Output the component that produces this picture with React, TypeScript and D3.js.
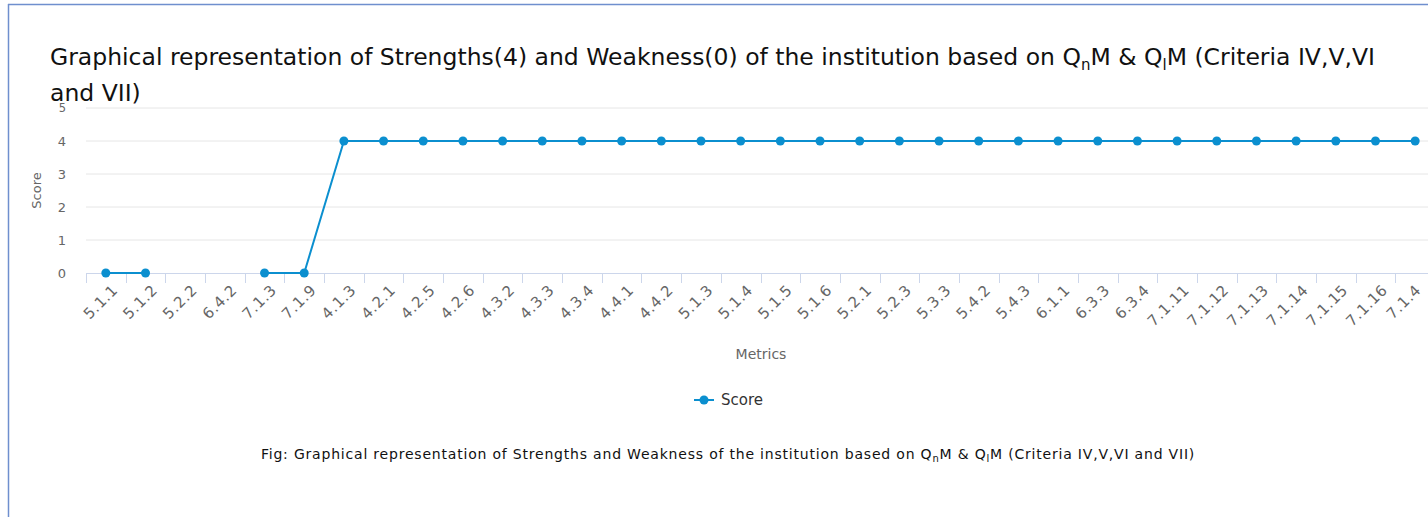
import React from 'react';
import * as d3 from 'd3';

// metrics on the x axis, in the order shown
const metrics = [
  '5.1.1', '5.1.2', '5.2.2', '6.4.2', '7.1.3', '7.1.9', '4.1.3', '4.2.1', '4.2.5', '4.2.6',
  '4.3.2', '4.3.3', '4.3.4', '4.4.1', '4.4.2', '5.1.3', '5.1.4', '5.1.5', '5.1.6', '5.2.1',
  '5.2.3', '5.3.3', '5.4.2', '5.4.3', '6.1.1', '6.3.3', '6.3.4', '7.1.11', '7.1.12', '7.1.13',
  '7.1.14', '7.1.15', '7.1.16', '7.1.4'
];
// null = no value (gap in the line)
const scores: (number | null)[] = [
  0, 0, null, null, 0, 0, 4, 4, 4, 4,
  4, 4, 4, 4, 4, 4, 4, 4, 4, 4,
  4, 4, 4, 4, 4, 4, 4, 4, 4, 4,
  4, 4, 4, 4
];
const yTicks = [0, 1, 2, 3, 4, 5];

const W = 1428;
const H = 517;
const FONT = '"DejaVu Sans", "Open Sans", sans-serif';
const LINE = '#0b8fcf';

export default function App() {
  const margin = { left: 86, right: -7, top: 108, bottom: 244 };
  const x = d3.scaleBand<string>()
    .domain(metrics)
    .range([margin.left, W - margin.right]);
  const y = d3.scaleLinear()
    .domain([0, 5])
    .range([H - margin.bottom, margin.top]);
  const cx = (m: string) => (x(m) ?? 0) + x.bandwidth() / 2;

  const pts = metrics.map((m, i) => ({ m, v: scores[i] }));
  const line = d3.line<{ m: string; v: number | null }>()
    .defined(d => d.v !== null)
    .x(d => cx(d.m))
    .y(d => y(d.v as number));

  const y0 = y(0);

  return (
    <svg width={W} height={H} style={{ position: 'fixed', left: 0, top: 0, background: '#fff' }}
      fontFamily={FONT}>
      {/* container border */}
      <line x1={8.5} x2={8.5} y1={4} y2={H} stroke="#6f8fce" strokeWidth={1.5} />
      <line x1={8} x2={W} y1={4.5} y2={4.5} stroke="#6f8fce" strokeWidth={1.5} />

      {/* title */}
      <text x={50} y={65} fontSize={23.5} fill="#111">
        <tspan>Graphical representation of Strengths(4) and Weakness(0) of the institution based on Q</tspan>
        <tspan fontSize={15} dy={5}>n</tspan>
        <tspan dy={-5}>M &amp; Q</tspan>
        <tspan fontSize={15} dy={5}>l</tspan>
        <tspan dy={-5}>M (Criteria IV,V,VI</tspan>
      </text>
      <text x={50} y={101} fontSize={23.5} fill="#111">and VII)</text>

      {/* grid */}
      {yTicks.map(t => (
        <g key={t}>
          {t > 0 && (
            <line x1={margin.left} x2={W} y1={y(t)} y2={y(t)} stroke="#e6e6e6" strokeWidth={1} />
          )}
          <text x={66} y={y(t)} dy="0.35em" textAnchor="end" fontSize={t === 5 ? 11.5 : 13}
            fill="#666">{t}</text>
        </g>
      ))}

      {/* x axis */}
      <line x1={margin.left} x2={W} y1={y0 + 0.5} y2={y0 + 0.5} stroke="#ccd6eb" strokeWidth={1} />
      {metrics.map(m => {
        const bx = Math.round(x(m) ?? 0) + 0.5;
        return <line key={'t' + m} x1={bx} x2={bx} y1={y0} y2={y0 + 10} stroke="#ccd6eb" />;
      })}
      {metrics.map(m => (
        <text key={'l' + m} transform={`translate(${Math.min(cx(m) + 5, W - 14)},${y0 + 10}) rotate(-45)`}
          textAnchor="end" dy="0.75em" fontSize={15} letterSpacing={0.6} fill="#666">{m}</text>
      ))}

      {/* axis titles */}
      <text transform={`translate(41,${(y(0) + y(5)) / 2}) rotate(-90)`} textAnchor="middle"
        fontSize={13} fill="#666">Score</text>
      <text x={761} y={359} textAnchor="middle" fontSize={14} fill="#666">Metrics</text>

      {/* series */}
      <path d={line(pts) ?? ''} fill="none" stroke={LINE} strokeWidth={2} />
      {pts.filter(p => p.v !== null).map(p => (
        <circle key={'c' + p.m} cx={cx(p.m)} cy={y(p.v as number)} r={4.5} fill={LINE} />
      ))}

      {/* legend */}
      <line x1={694} x2={714} y1={400} y2={400} stroke={LINE} strokeWidth={2} />
      <circle cx={704} cy={400} r={4.5} fill={LINE} />
      <text x={721} y={400} dy="0.35em" fontSize={15} fill="#333">Score</text>

      {/* caption */}
      <text x={728} y={459} textAnchor="middle" fontSize={14} letterSpacing={0.8} fill="#111">
        <tspan>Fig: Graphical representation of Strengths and Weakness of the institution based on Q</tspan>
        <tspan fontSize={10} dy={3}>n</tspan>
        <tspan dy={-3}>M &amp; Q</tspan>
        <tspan fontSize={10} dy={3}>l</tspan>
        <tspan dy={-3}>M (Criteria IV,V,VI and VII)</tspan>
      </text>
    </svg>
  );
}
